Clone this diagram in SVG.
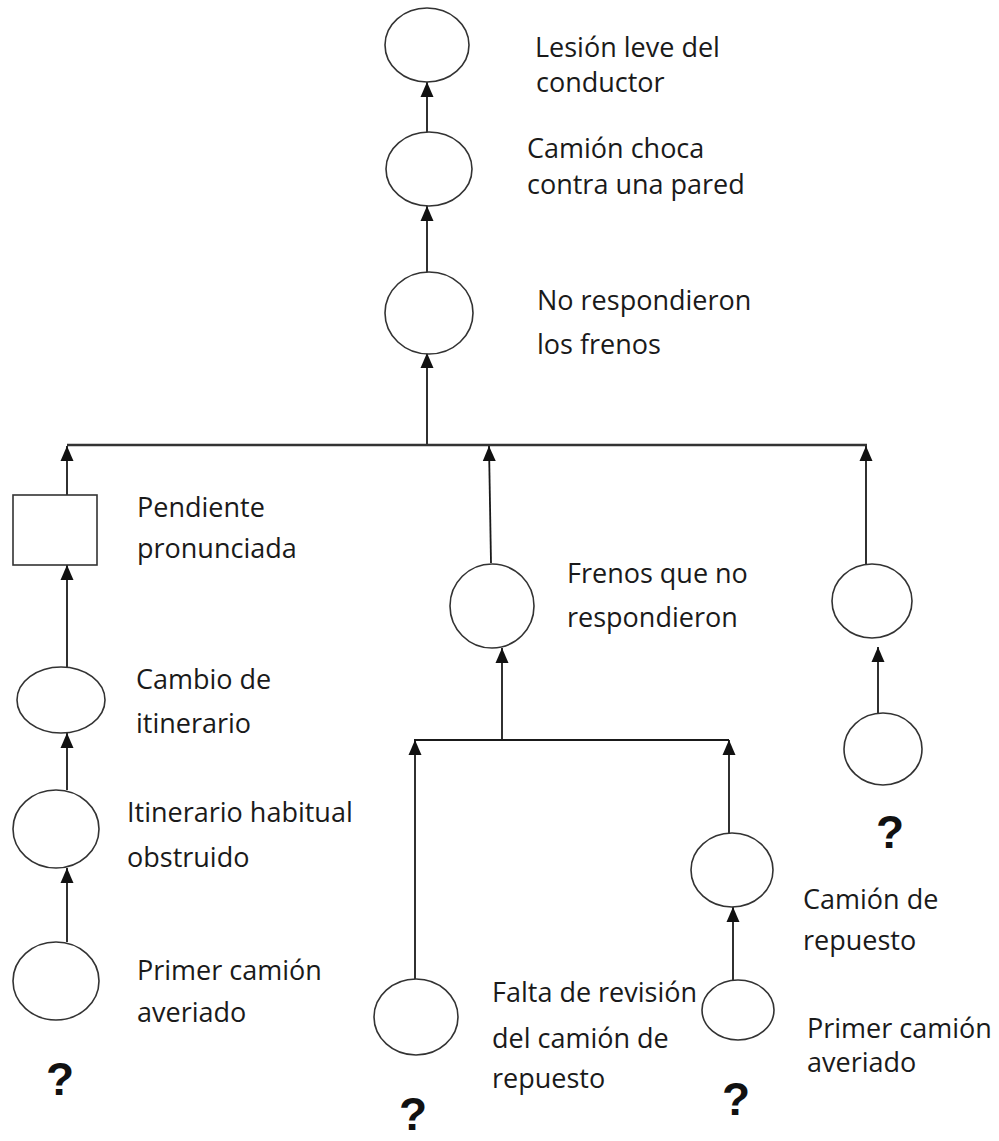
<svg xmlns="http://www.w3.org/2000/svg" width="999" height="1141" viewBox="0 0 999 1141">
  <style>
    .node { fill: #ffffff; stroke: #333333; stroke-width: 1.6; }
    .edge { fill: none; stroke: #1a1a1a; stroke-width: 1.8; }
    .bus { fill: none; stroke: #333333; stroke-width: 2.6; }
    .lbl { font-family: "Open Sans", "Liberation Sans", sans-serif; font-size: 27px; fill: #1a1a1a; }
    .q { font-family: "Liberation Sans", Arial, sans-serif; font-size: 46px; font-weight: bold; fill: #111111; text-anchor: middle; }
  </style>
  <defs>
    <marker id="arrow" markerUnits="userSpaceOnUse" markerWidth="15" markerHeight="14" refX="15" refY="6.5" orient="auto" viewBox="0 0 15 13">
      <path d="M0,0 L15,6.5 L0,13 z" fill="#111111"/>
    </marker>
  </defs>

  <rect width="999" height="1141" fill="#ffffff"/>

  <!-- connectors -->
  <g id="connectors">
    <!-- main chain -->
    <line class="edge" x1="427" y1="132" x2="427" y2="82" marker-end="url(#arrow)"/>
    <line class="edge" x1="427" y1="272" x2="427" y2="206" marker-end="url(#arrow)"/>
    <line class="edge" x1="427" y1="445" x2="427" y2="353" marker-end="url(#arrow)"/>
    <line class="bus" x1="67" y1="445" x2="867" y2="445"/>
    <!-- left branch -->
    <line class="edge" x1="67" y1="495" x2="67" y2="446" marker-end="url(#arrow)"/>
    <line class="edge" x1="67" y1="667" x2="67" y2="565" marker-end="url(#arrow)"/>
    <line class="edge" x1="67" y1="790" x2="67" y2="733" marker-end="url(#arrow)"/>
    <line class="edge" x1="67" y1="942" x2="67" y2="868" marker-end="url(#arrow)"/>
    <!-- middle branch -->
    <line class="edge" x1="491" y1="563" x2="489" y2="446" marker-end="url(#arrow)"/>
    <line class="edge" x1="502" y1="740" x2="502" y2="648" marker-end="url(#arrow)"/>
    <line class="edge" x1="414" y1="740" x2="729" y2="740"/>
    <line class="edge" x1="415" y1="980" x2="415" y2="740" marker-end="url(#arrow)"/>
    <line class="edge" x1="729" y1="833" x2="729" y2="740" marker-end="url(#arrow)"/>
    <line class="edge" x1="733" y1="980" x2="733" y2="907" marker-end="url(#arrow)"/>
    <!-- right branch -->
    <line class="edge" x1="866" y1="564" x2="866" y2="446" marker-end="url(#arrow)"/>
    <line class="edge" x1="878" y1="713" x2="878" y2="647" marker-end="url(#arrow)"/>
  </g>

  <g id="n-lesion">
    <ellipse class="node" cx="427" cy="45" rx="42" ry="37"/>
    <text class="lbl" x="535" y="57">Lesión leve del</text>
    <text class="lbl" x="536" y="92">conductor</text>
  </g>
  <g id="n-choca">
    <ellipse class="node" cx="429" cy="169" rx="43" ry="37"/>
    <text class="lbl" x="527" y="158">Camión choca</text>
    <text class="lbl" x="527" y="194">contra una pared</text>
  </g>
  <g id="n-no-respondieron">
    <ellipse class="node" cx="429" cy="313" rx="44" ry="41"/>
    <text class="lbl" x="537" y="310">No respondieron</text>
    <text class="lbl" x="537" y="354">los frenos</text>
  </g>

  <g id="n-pendiente">
    <rect class="node" x="13" y="495" width="84" height="70"/>
    <text class="lbl" x="137" y="517">Pendiente</text>
    <text class="lbl" x="137" y="558">pronunciada</text>
  </g>
  <g id="n-cambio">
    <ellipse class="node" cx="61" cy="700" rx="44" ry="33"/>
    <text class="lbl" x="136" y="689">Cambio de</text>
    <text class="lbl" x="136" y="733">itinerario</text>
  </g>
  <g id="n-obstruido">
    <ellipse class="node" cx="56" cy="829" rx="43" ry="39"/>
    <text class="lbl" x="127" y="822">Itinerario habitual</text>
    <text class="lbl" x="127" y="867">obstruido</text>
  </g>
  <g id="n-averiado-1">
    <ellipse class="node" cx="56" cy="981" rx="43" ry="39"/>
    <text class="lbl" x="137" y="980">Primer camión</text>
    <text class="lbl" x="137" y="1022">averiado</text>
    <text class="q" x="60" y="1095">?</text>
  </g>

  <g id="n-frenos">
    <ellipse class="node" cx="492" cy="606" rx="42" ry="42"/>
    <text class="lbl" x="567" y="583">Frenos que no</text>
    <text class="lbl" x="567" y="627">respondieron</text>
  </g>
  <g id="n-revision">
    <ellipse class="node" cx="416" cy="1017" rx="42" ry="38"/>
    <text class="lbl" x="492" y="1002">Falta de revisión</text>
    <text class="lbl" x="492" y="1048">del camión de</text>
    <text class="lbl" x="492" y="1088">repuesto</text>
    <text class="q" x="413" y="1130">?</text>
  </g>
  <g id="n-repuesto">
    <ellipse class="node" cx="732" cy="870" rx="41" ry="37"/>
    <text class="lbl" x="803" y="909">Camión de</text>
    <text class="lbl" x="803" y="950">repuesto</text>
  </g>
  <g id="n-averiado-2">
    <ellipse class="node" cx="738" cy="1010" rx="36" ry="30"/>
    <text class="lbl" x="807" y="1038">Primer camión</text>
    <text class="lbl" x="807" y="1072">averiado</text>
    <text class="q" x="736" y="1115">?</text>
  </g>

  <g id="n-right-upper">
    <ellipse class="node" cx="872" cy="601" rx="40" ry="37"/>
  </g>
  <g id="n-right-lower">
    <ellipse class="node" cx="883" cy="749" rx="39" ry="36"/>
    <text class="q" x="890" y="848">?</text>
  </g>
</svg>
